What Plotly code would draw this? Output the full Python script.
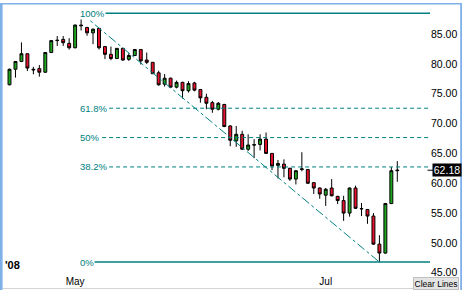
import pandas as pd
import plotly.graph_objects as go

# ---- data ----
dates = [d.strftime("%Y-%m-%d") for d in pd.bdate_range("2008-04-16", "2008-07-18")
         if d.strftime("%Y-%m-%d") not in ("2008-05-26", "2008-07-04")]

opens = [76.5, 79.1, 80.4, 81.7, 79.1, 79.2, 78.6, 81.9, 83.9, 84.1,
         83.44, 82.7, 86.5, 86.1, 85.2, 85.95, 82.9, 81.6, 80.9, 82.6,
         80.76, 81.4, 82.4, 80.65, 80.26, 78.5, 76.6, 77.6, 76.1, 76.9,
         75.5, 76.8, 75.7, 74.4, 73.5, 72.4, 73.2, 69.6, 67.1, 68.2,
         65.7, 66.4, 66.5, 67.4, 65.0, 63.0, 63.2, 62.5, 60.7, 62.3,
         62.3, 60.1, 59.2, 58.0, 59.2, 57.8, 57.1, 55.0, 59.2, 55.7,
         55.6, 54.5, 49.8, 48.3, 56.6, 62.1]
highs = [79.2, 80.4, 83.6, 81.7, 79.5, 79.8, 82.0, 84.0, 84.66, 84.66,
         84.3, 86.6, 88.5, 86.2, 85.95, 86.0, 83.0, 82.9, 82.6, 82.7,
         81.8, 82.5, 82.5, 81.9, 80.3, 78.85, 78.3, 77.7, 77.2, 77.0,
         77.1, 77.0, 75.8, 75.0, 73.8, 73.6, 73.3, 69.7, 69.6, 68.8,
         68.2, 67.4, 68.2, 68.5, 65.0, 63.9, 64.0, 62.6, 62.2, 65.2,
         62.4, 60.2, 59.3, 59.2, 60.7, 57.9, 57.9, 59.3, 59.6, 56.7,
         55.7, 55.0, 51.3, 56.7, 62.7, 63.7]
lows = [76.4, 77.7, 80.3, 78.8, 78.25, 77.85, 78.5, 81.8, 83.0, 83.0,
        82.4, 82.6, 85.6, 84.7, 83.3, 82.4, 80.8, 80.6, 80.8, 80.5,
        80.5, 81.3, 79.9, 79.97, 78.3, 76.34, 76.2, 76.0, 75.9, 74.2,
        75.2, 75.4, 73.5, 72.4, 71.8, 72.2, 69.4, 66.2, 66.1, 65.6,
        65.4, 64.2, 65.5, 64.9, 62.2, 60.8, 61.0, 60.4, 59.8, 62.0,
        59.9, 58.2, 57.4, 56.2, 57.8, 56.5, 53.7, 54.4, 55.7, 54.5,
        53.2, 49.7, 46.8, 48.2, 56.5, 60.25]
closes = [79.1, 80.4, 81.7, 79.3, 79.0, 78.6, 81.9, 83.9, 83.95, 83.55,
          82.7, 86.5, 86.4, 85.2, 85.8, 82.7, 81.6, 80.9, 82.6, 80.65,
          81.4, 82.4, 80.5, 80.26, 78.35, 76.5, 77.6, 76.1, 76.9, 75.5,
          76.7, 75.6, 74.3, 73.4, 72.4, 73.4, 69.5, 67.2, 68.2, 65.7,
          66.4, 66.45, 67.4, 65.0, 62.9, 63.3, 62.5, 60.7, 62.1, 62.4,
          60.0, 59.2, 58.2, 59.0, 57.9, 57.1, 55.0, 59.2, 55.8, 55.75,
          54.5, 49.8, 48.3, 56.6, 62.1, 62.18]

fib_ratios = [1.0, 0.618, 0.5, 0.382, 0.0]
fib_labels = ["100%", "61.8%", "50%", "38.2%", "0%"]
month_ticks = ["2008-05-01", "2008-07-01"]
month_labels = ["May", "Jul"]
last_price = closes[-1]

# ---- styling / layout ----
TEAL = "#008080"
BLUE = "#7fb0e8"
W, H = 462, 290
ML, MR, MT, MB = 3, 32, 4, 2
PW, PH = W - ML - MR, H - MT - MB
XR = [-1.09, 70.48]
YR = [42.45, 90.03]


def px_x(px):
    return (px - ML) / PW


def px_y(py):
    return (H - MB - py) / PH


fig = go.Figure()
fig.add_trace(go.Candlestick(
    x=dates, open=opens, high=highs, low=lows, close=closes,
    increasing=dict(fillcolor="#1ea51e", line=dict(color="black", width=1)),
    decreasing=dict(fillcolor="#e8102c", line=dict(color="black", width=1)),
    whiskerwidth=0, showlegend=False, hoverinfo="skip",
))

hi_val = max(highs)
lo_val = min(lows)
hi_idx = highs.index(hi_val)
lo_idx = lows.index(lo_val)

shapes = []
annotations = []
for r, lab in zip(fib_ratios, fib_labels):
    lvl = lo_val + r * (hi_val - lo_val)
    solid = r in (0.0, 1.0)
    shapes.append(dict(type="line", xref="x", yref="y", x0=hi_idx, x1=XR[1],
                       y0=lvl, y1=lvl,
                       line=dict(color=TEAL, width=1.5 if solid else 1,
                                 dash="solid" if solid else "4px,3px")))
    annotations.append(dict(xref="x", yref="y", x=hi_idx, y=lvl, text=lab,
                            showarrow=False, xanchor="left", yanchor="middle",
                            xshift=-2, bgcolor="white", borderpad=0,
                            font=dict(family="Liberation Sans", size=9.5, color=TEAL)))

# trend line high -> low
shapes.append(dict(type="line", xref="x", yref="y", x0=hi_idx, y0=hi_val,
                   x1=lo_idx, y1=lo_val, line=dict(color=TEAL, width=1, dash="dashdot")))

# price tag tick
shapes.append(dict(type="line", xref="paper", yref="y", x0=px_x(427.5), x1=px_x(433),
                   y0=last_price, y1=last_price, line=dict(color="black", width=1)))

# frame borders
shapes += [
    dict(type="rect", xref="paper", yref="paper", x0=px_x(0), x1=px_x(2.6),
         y0=px_y(292), y1=px_y(3), fillcolor=BLUE, line=dict(width=0)),
    dict(type="rect", xref="paper", yref="paper", x0=px_x(0), x1=px_x(462),
         y0=px_y(4.6), y1=px_y(3), fillcolor=BLUE, line=dict(width=0)),
    dict(type="rect", xref="paper", yref="paper", x0=px_x(460.2), x1=px_x(462),
         y0=px_y(292), y1=px_y(3), fillcolor=BLUE, line=dict(width=0)),
]

annotations += [
    dict(xref="paper", yref="y", x=px_x(432.5), y=last_price, text="62.18",
         showarrow=False, xanchor="left", yanchor="middle", bgcolor="black",
         borderpad=0, width=28, align="center",
         font=dict(family="Liberation Sans", size=10.5, color="white")),
    dict(xref="paper", yref="paper", x=px_x(2.5), y=px_y(265), text="<b>'08</b>",
         showarrow=False, xanchor="left", yanchor="middle",
         font=dict(family="Liberation Sans", size=11, color="black")),
    dict(xref="paper", yref="paper", x=px_x(436.5), y=px_y(283.5), text="Clear Lines",
         showarrow=False, xanchor="center", yanchor="middle", bgcolor="#e4e4e4",
         bordercolor="#c0c0c0", borderwidth=1, width=44, height=11, borderpad=0,
         font=dict(family="Liberation Sans", size=8.5, color="black")),
]

fig.update_layout(
    width=W, height=H, margin=dict(l=ML, r=MR, t=MT, b=MB),
    paper_bgcolor="white", plot_bgcolor="white",
    shapes=shapes, annotations=annotations, showlegend=False,
    xaxis=dict(type="category", range=XR, rangeslider=dict(visible=False),
               tickvals=month_ticks, ticktext=month_labels,
               ticklabelposition="inside", ticks="", showgrid=False,
               zeroline=False, showline=True, linecolor="#d4d4d4", linewidth=1,
               tickfont=dict(family="Liberation Sans", size=10, color="black")),
    yaxis=dict(side="right", range=YR, dtick=5, tick0=0, tickformat=".2f",
               showgrid=False, zeroline=False, showline=False, ticks="",
               tickfont=dict(family="Liberation Sans", size=10.5, color="black")),
)

fig.write_html("out.html")
